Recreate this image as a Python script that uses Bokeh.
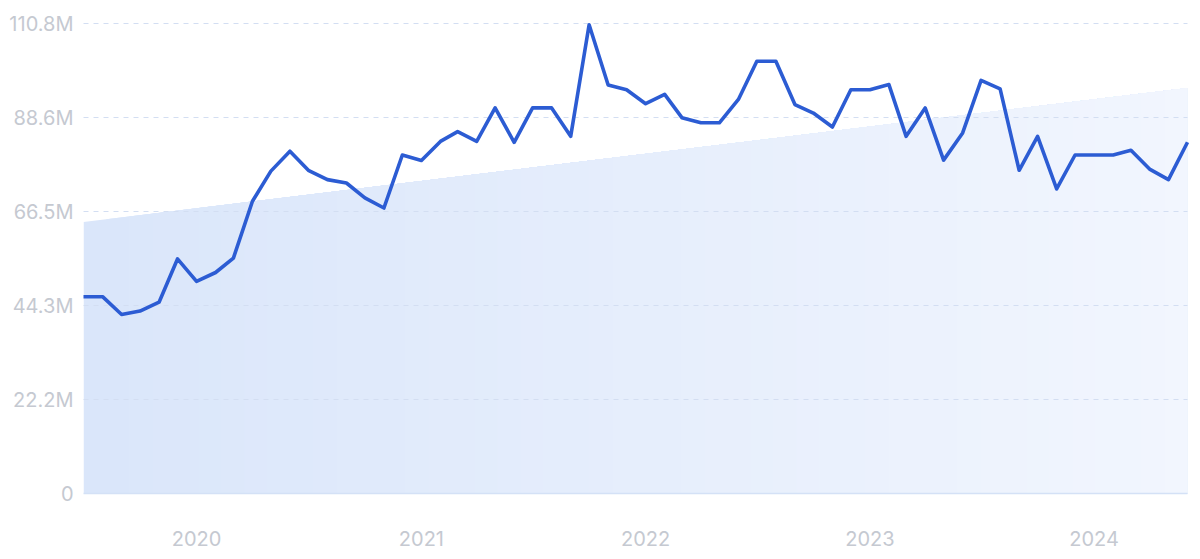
import pandas as pd
from bokeh.plotting import figure
from bokeh.models import FixedTicker, Range1d
from bokeh.embed import file_html
from bokeh.resources import INLINE

# Monthly values, July 2019 .. June 2024 (millions)
months = pd.date_range("2019-07-01", periods=60, freq="MS")
values_m = [
    46.4, 46.4, 42.2, 43.0, 45.1, 55.3, 50.0, 52.1, 55.5, 68.9, 76.0, 80.7,
    76.2, 74.0, 73.2, 69.7, 67.3, 79.8, 78.5, 83.0, 85.3, 83.0, 90.9, 82.8,
    90.9, 90.9, 84.2, 110.5, 96.3, 95.2, 91.9, 94.1, 88.6, 87.4, 87.4, 92.9,
    101.9, 101.9, 91.7, 89.7, 86.4, 95.2, 95.2, 96.4, 84.2, 90.9, 78.6, 85.0,
    97.4, 95.4, 76.2, 84.2, 71.8, 79.8, 79.8, 79.8, 80.9, 76.4, 74.0, 82.8,
]
trend_start_m = 64.0
trend_end_m = 95.6

y_ticks_m = [0, 22.16, 44.32, 66.48, 88.64, 110.8]
y_tick_labels = ["0", "22.2M", "44.3M", "66.5M", "88.6M", "110.8M"]
x_tick_dates = ["2020-01-01", "2021-01-01", "2022-01-01", "2023-01-01", "2024-01-01"]
x_tick_labels = ["2020", "2021", "2022", "2023", "2024"]

M = 1e6
xs = [d.timestamp() * 1000 for d in months]
ys = [v * M for v in values_m]
x_ticks = [pd.Timestamp(d).timestamp() * 1000 for d in x_tick_dates]

p = figure(
    frame_width=1104, frame_height=480,
    min_border_left=83, min_border_right=3, min_border_top=13, min_border_bottom=62,
    output_backend="svg", toolbar_location=None,
    x_range=Range1d(xs[0], xs[-1]),
    y_range=Range1d(0, 113.16 * M),
)
p.outline_line_color = None
p.background_fill_color = "white"

# trend area: horizontal gradient from opaque overlapping layers
left_rgb = (218, 230, 250)
right_rgb = (242, 246, 254)
n_layers = 48
x0, x1 = xs[0], xs[-1]
t0, t1 = trend_start_m * M, trend_end_m * M
for k in range(n_layers):
    f = k / n_layers
    xa = x0 + (x1 - x0) * f
    ta = t0 + (t1 - t0) * f
    c = tuple(round(l + (r - l) * f) for l, r in zip(left_rgb, right_rgb))
    p.varea(x=[xa, x1], y1=[0, 0], y2=[ta, t1],
            fill_color="#%02x%02x%02x" % c, fill_alpha=1.0)

line_r = p.line(xs, ys, line_color="#2c5cd3", line_width=3.6, line_join="round")
line_r.level = "overlay"

# axes
font = "Inter"
p.yaxis.ticker = FixedTicker(ticks=[t * M for t in y_ticks_m])
p.yaxis.major_label_overrides = {t * M: l for t, l in zip(y_ticks_m, y_tick_labels)}
p.xaxis.ticker = FixedTicker(ticks=x_ticks)
p.xaxis.major_label_overrides = {t: l for t, l in zip(x_ticks, x_tick_labels)}
for ax in (p.xaxis, p.yaxis):
    ax.major_tick_line_color = None
    ax.minor_tick_line_color = None
    ax.major_tick_out = 0
    ax.major_tick_in = 0
    ax.major_label_text_color = "#c5c9d1"
    ax.major_label_text_font = font
    ax.major_label_text_font_size = "20px"
p.yaxis.axis_line_color = None
p.yaxis.major_label_standoff = 10
p.xaxis.axis_line_color = "#d4e1f6"
p.xaxis.axis_line_width = 1.5
p.xaxis.major_label_standoff = 37

p.xgrid.grid_line_color = None
p.ygrid.ticker = FixedTicker(ticks=[t * M for t in y_ticks_m[1:]])
p.ygrid.grid_line_color = "#d3def2"
p.ygrid.grid_line_dash = "5 5"
p.ygrid.grid_line_width = 1
p.ygrid.level = "annotation"

open("out.html", "w").write(file_html(p, INLINE))
